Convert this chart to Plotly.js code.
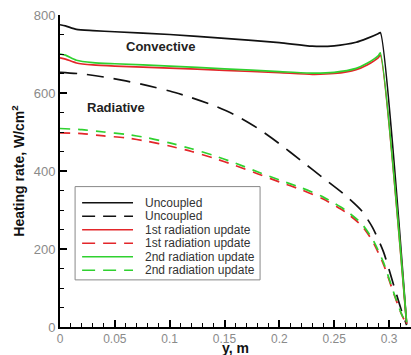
<!DOCTYPE html>
<html><head><meta charset="utf-8">
<script src="https://cdn.plot.ly/plotly-3.0.1.min.js"></script>
<style>html,body{margin:0;padding:0;background:#fff}#chart{width:411px;height:355px}</style>
</head><body><div id="chart"></div>
<script>
// Convective (solid) curves
const xConv = [0, 0.005, 0.015, 0.03, 0.05, 0.1, 0.15, 0.2, 0.23, 0.25, 0.27, 0.28, 0.29, 0.292, 0.316];
const convUncoupled = [775, 772, 763, 760, 757, 750, 740, 729, 720, 721, 730, 740, 752, 755, 8];
const conv1st = [690, 687, 677, 672, 669, 664, 658, 652, 648, 650, 660, 672, 690, 697, 8];
const conv2nd = [700, 697, 684, 678, 675, 669, 662, 655, 651, 653, 663, 676, 695, 703, 12];
// Radiative (dashed) curves
const xRad = [0, 0.02, 0.04, 0.06, 0.08, 0.1, 0.12, 0.14, 0.16, 0.18, 0.2, 0.22, 0.24, 0.26, 0.275, 0.285, 0.295, 0.305, 0.311, 0.316];
const radUncoupled = [653, 649, 641, 631, 619, 605, 588, 568, 543, 510, 470, 426, 382, 338, 298, 255, 192, 100, 45, 5];
const rad1st = [498, 496, 490, 485, 476, 464, 450, 433, 414, 393, 372, 352, 328, 295, 260, 220, 160, 80, 35, 5];
const rad2nd = [509, 506, 500, 494, 485, 472, 457, 440, 420, 398, 377, 357, 333, 300, 265, 225, 165, 82, 36, 5];
const names = ["Uncoupled", "Uncoupled", "1st radiation update", "1st radiation update", "2nd radiation update", "2nd radiation update"];

const BLACK = "#111111", RED = "#e3262a", GREEN = "#2fd12f";
const colors = [BLACK, BLACK, RED, RED, GREEN, GREEN];
const dashes = ["solid", "17px,10px", "solid", "10px,8px", "solid", "10px,8px"];
const legendDash = ["solid", "13px,8px", "solid", "13px,8px", "solid", "13px,8px"];
const xs = [xConv, xRad, xConv, xRad, xConv, xRad];
const ys = [convUncoupled, radUncoupled, conv1st, rad1st, conv2nd, rad2nd];

const data = ys.map((y, i) => ({
  x: xs[i], y: y, name: names[i], type: "scatter", mode: "lines", showlegend: false,
  line: {color: colors[i], width: 1.7, dash: dashes[i], shape: "spline", smoothing: 0.6}
}));

const FONT = "Liberation Sans, Arial, sans-serif";
// custom legend (compact row spacing like the reference)
const shapes = [{type: "rect", xref: "paper", yref: "paper", x0: 0.043, x1: 0.57, y0: 0.151, y1: 0.45,
  fillcolor: "#fff", line: {color: "#888", width: 1}, layer: "above"}];
const annotations = [
  {x: 0.092, y: 718, xref: "x", yref: "y", text: "<b>Convective</b>", showarrow: false,
    font: {family: FONT, size: 13, color: "#222"}},
  {x: 0.051, y: 562, xref: "x", yref: "y", text: "<b>Radiative</b>", showarrow: false,
    font: {family: FONT, size: 13, color: "#222"}},
  {x: 0.5, y: 0, xref: "paper", yref: "paper", yanchor: "bottom", yshift: -29.5, text: "<b>y, m</b>",
    showarrow: false, borderpad: 0, font: {family: FONT, size: 14, color: "#111"}}
];
const rowTop = 0.398, rowStep = 0.0432;
names.forEach((n, i) => {
  const yy = rowTop - i * rowStep;
  shapes.push({type: "line", xref: "paper", yref: "paper", x0: 0.063, x1: 0.208, y0: yy, y1: yy,
    line: {color: colors[i], width: 1.6, dash: legendDash[i]}, layer: "above"});
  annotations.push({x: 0.236, y: yy, xref: "paper", yref: "paper", xanchor: "left", yanchor: "middle",
    text: n, showarrow: false, font: {family: FONT, size: 12, color: "#333"}});
});

const layout = {
  width: 411, height: 355,
  margin: {l: 60, r: 0, t: 15, b: 28},
  paper_bgcolor: "#fff", plot_bgcolor: "#fff",
  showlegend: false,
  xaxis: {range: [0, 0.32], tick0: 0, dtick: 0.05, showgrid: false, zeroline: false,
    showline: true, linecolor: "#000", linewidth: 2,
    ticks: "inside", ticklen: 7, tickwidth: 2, tickcolor: "#000",
    minor: {dtick: 0.01, ticks: "inside", ticklen: 4, tickwidth: 1, tickcolor: "#000", showgrid: false},
    tickfont: {family: FONT, size: 12, color: "#8a8a8a"}},
  yaxis: {range: [0, 800], tick0: 0, dtick: 200, showgrid: false, zeroline: false,
    showline: true, linecolor: "#000", linewidth: 2,
    ticks: "inside", ticklen: 7, tickwidth: 2, tickcolor: "#000",
    minor: {dtick: 50, ticks: "inside", ticklen: 4, tickwidth: 1, tickcolor: "#000", showgrid: false},
    tickfont: {family: FONT, size: 13, color: "#8a8a8a"},
    title: {text: "<b>Heating rate, W/cm<sup>2</sup></b>", font: {family: FONT, size: 14, color: "#111"}, standoff: 6}},
  shapes: shapes,
  annotations: annotations
};
Plotly.newPlot("chart", data, layout, {displayModeBar: false, staticPlot: true});
</script>
</body></html>
